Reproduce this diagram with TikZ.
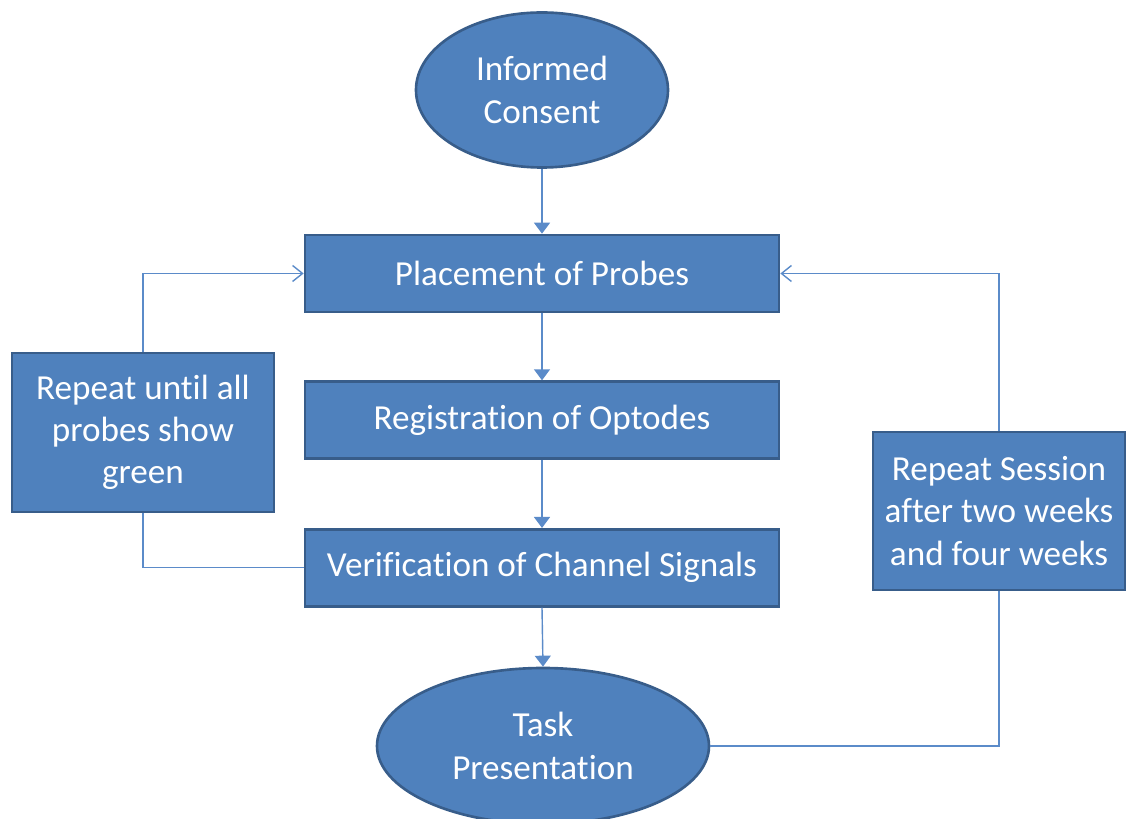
\documentclass[tikz,border=0pt]{standalone}
\usepackage{fontspec}
\setmainfont{Carlito}[Ligatures=NoCommon]
\usepackage{xcolor}
\usepackage{tikz}
\usetikzlibrary{positioning,arrows.meta,shapes.geometric}
\definecolor{boxfill}{HTML}{4F81BD}
\definecolor{boxedge}{HTML}{385D8A}
\definecolor{wire}{HTML}{5B8BC9}
\tikzset{
block/.style={
  draw=boxedge,
  fill=boxfill,
  line width=1.5pt,
  rectangle,
  text=white,
  align=center,
  font=\fontsize{20}{24}\selectfont
  },
oval/.style={
  block,
  ellipse,
  inner sep=0pt
  },
line/.style={-{Triangle[length=2.2mm,width=3.2mm]},draw=wire,line width=0.8pt},
loopline/.style={-{Straight Barb[length=2mm,width=3.2mm]},draw=wire,line width=0.8pt},
plain/.style={draw=wire,line width=0.8pt}
}

\begin{document}
\begin{tikzpicture}
\useasboundingbox (0,0) rectangle (22.54,-16.38);
\node[oval, minimum width=5.04cm, minimum height=3.1cm] (cons) at (10.84,-1.8) {Informed\\Consent};
\node[block, minimum width=9.48cm, minimum height=1.54cm] (place) at (10.84,-5.47) {Placement of Probes};
\node[block, minimum width=9.48cm, minimum height=1.54cm, below=1.34cm of place] (reg) {Registration of Optodes};
\node[block, minimum width=9.48cm, minimum height=1.54cm, below=1.36cm of reg] (ver) {Verification of Channel Signals};
\node[oval, minimum width=6.64cm, minimum height=3.12cm] (task) at (10.86,-14.92) {Task\\Presentation};
\node[block, minimum width=5.24cm, minimum height=3.18cm] (rep) at (2.86,-8.65) {Repeat until all\\probes show\\green};
\node[block, minimum width=5.04cm, minimum height=3.16cm] (sess) at (19.98,-10.22) {Repeat Session\\after two weeks\\and four weeks};
% main flow
\draw[line] (cons) -- (place);
\draw[line] (place) -- (reg);
\draw[line] (reg) -- (ver);
\draw[line] (ver.south) -- (task.north);
% loops
\draw[loopline] (rep.north) |- (place.west);
\draw[plain] (rep.south) |- (ver.west);
\draw[plain] (task.east) -| (sess.south);
\draw[loopline] (sess.north) |- (place.east);
\end{tikzpicture}
\end{document}
